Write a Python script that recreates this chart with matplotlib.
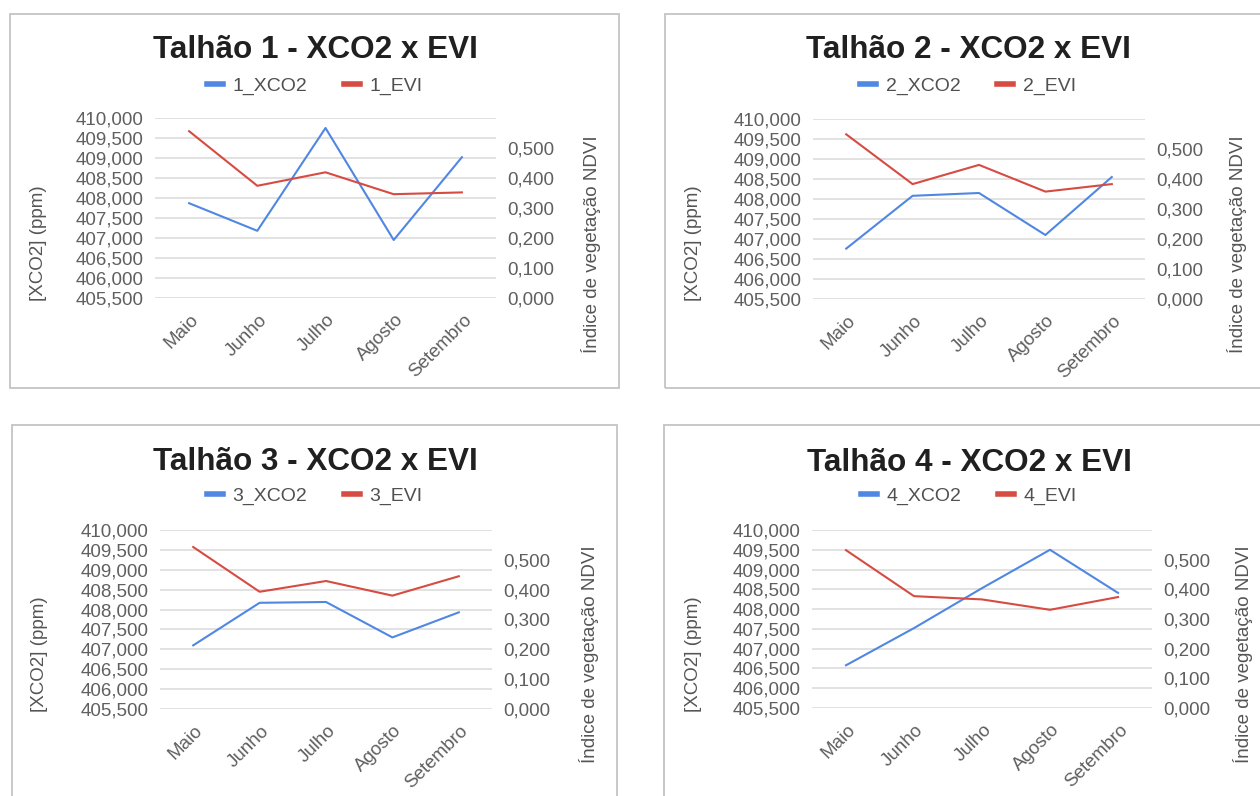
import matplotlib
matplotlib.use('Agg')
import matplotlib.pyplot as plt
from matplotlib.lines import Line2D
from matplotlib.patches import Rectangle
from matplotlib.ticker import FuncFormatter
from matplotlib.transforms import ScaledTranslation

plt.rcParams['font.family'] = ['Liberation Sans', 'DejaVu Sans']

# dados
meses = ['Maio', 'Junho', 'Julho', 'Agosto', 'Setembro']

xco2_t1 = [407.87, 407.18, 409.75, 406.95, 409.02]
evi_t1 = [0.556, 0.374, 0.419, 0.346, 0.352]

xco2_t2 = [406.76, 408.08, 408.15, 407.10, 408.55]
evi_t2 = [0.549, 0.383, 0.447, 0.358, 0.383]

xco2_t3 = [407.10, 408.17, 408.19, 407.30, 407.93]
evi_t3 = [0.543, 0.393, 0.429, 0.380, 0.445]

xco2_t4 = [406.58, 407.52, 408.53, 409.50, 408.41]
evi_t4 = [0.532, 0.377, 0.366, 0.331, 0.374]

ticks_xco2 = [405.5, 406.0, 406.5, 407.0, 407.5, 408.0, 408.5, 409.0, 409.5, 410.0]
ticks_evi = [0.0, 0.1, 0.2, 0.3, 0.4, 0.5]

W, H = 1260, 796
AZUL = '#4f87e3'
VERMELHO = '#d64b42'
CINZA = '#5f5f5f'

fig = plt.figure(figsize=(W / 100, H / 100), dpi=100)

virgula = FuncFormatter(lambda v, p: ('%.3f' % v).replace('.', ','))


def desenha(n, xco2, evi, eixo, caixa, cx, ytit, yleg, lab_esq, lab_dir):
    x0, y0, x1, y1 = eixo
    bx0, by0, bx1, by1 = caixa
    fig.add_artist(Rectangle((bx0 / W, 1 - by1 / H), (bx1 - bx0) / W, (by1 - by0) / H,
                             transform=fig.transFigure, fill=False,
                             edgecolor='#c4c4c4', lw=1.3))

    ax = fig.add_axes([x0 / W, 1 - y1 / H, (x1 - x0) / W, (y1 - y0) / H])
    ax2 = ax.twinx()
    pos = list(range(len(meses)))
    ax.plot(pos, xco2, color=AZUL, lw=1.5)
    ax2.plot(pos, evi, color=VERMELHO, lw=1.5)

    ax.set_xlim(-0.5, len(meses) - 0.5)
    ax.set_ylim(405.5, 410.0)
    ax2.set_ylim(0, 0.6)
    ax.set_yticks(ticks_xco2)
    ax2.set_yticks(ticks_evi)
    ax.yaxis.set_major_formatter(virgula)
    ax2.yaxis.set_major_formatter(virgula)
    ax.yaxis.grid(True, color='#dadada', lw=1.1)
    ax.set_axisbelow(True)
    for a in (ax, ax2):
        for s in a.spines.values():
            s.set_visible(False)
        a.tick_params(length=0, labelsize=13.5, labelcolor=CINZA, pad=8)

    ax.set_xticks(pos, meses, rotation=45, ha='right', va='center',
                  rotation_mode='anchor')
    ax.tick_params(axis='x', pad=14)
    for lbl in ax.get_xticklabels():
        lbl.set_transform(lbl.get_transform() + ScaledTranslation(5 / 72, 0, fig.dpi_scale_trans))

    ax.set_ylabel('[XCO2] (ppm)', fontsize=13.5, color='#555555')
    ax2.set_ylabel('Índice de vegetação NDVI', fontsize=13.5, color='#555555', rotation=90)
    ax.yaxis.set_label_coords((lab_esq[0] - x0) / (x1 - x0), (y1 - lab_esq[1]) / (y1 - y0))
    ax2.yaxis.set_label_coords((lab_dir[0] - x0) / (x1 - x0), (y1 - lab_dir[1]) / (y1 - y0))
    ax.yaxis.label.set_va('center')
    ax2.yaxis.label.set_va('center')

    fig.text(cx / W, 1 - ytit / H, 'Talhão %d - XCO2 x EVI' % n, ha='center', va='center',
             fontsize=22.7, fontweight='bold', color='#202020')

    alças = [Line2D([], [], color=AZUL, lw=4), Line2D([], [], color=VERMELHO, lw=4)]
    ax.legend(alças, ['%d_XCO2' % n, '%d_EVI' % n], loc='center',
              bbox_to_anchor=(cx / W, 1 - yleg / H), bbox_transform=fig.transFigure,
              ncol=2, frameon=False, fontsize=14, handlelength=0.8,
              handletextpad=0.5, columnspacing=1.9, labelcolor='#505050')


desenha(1, xco2_t1, evi_t1, (155, 118, 496, 298), (10, 14, 619, 388), 315, 50, 86, (38, 243), (591, 244))
desenha(2, xco2_t2, evi_t2, (813, 119, 1145, 299), (665, 14, 1280, 388), 968, 50, 86, (694, 243), (1237, 244))
desenha(3, xco2_t3, evi_t3, (160, 530, 492, 709), (12, 425, 617, 820), 315, 462, 496, (40, 654), (589, 654))
desenha(4, xco2_t4, evi_t4, (812, 530, 1152, 708), (664, 425, 1280, 820), 969, 463, 496, (694, 654), (1243, 654))

fig.savefig('out.png', dpi=100)
